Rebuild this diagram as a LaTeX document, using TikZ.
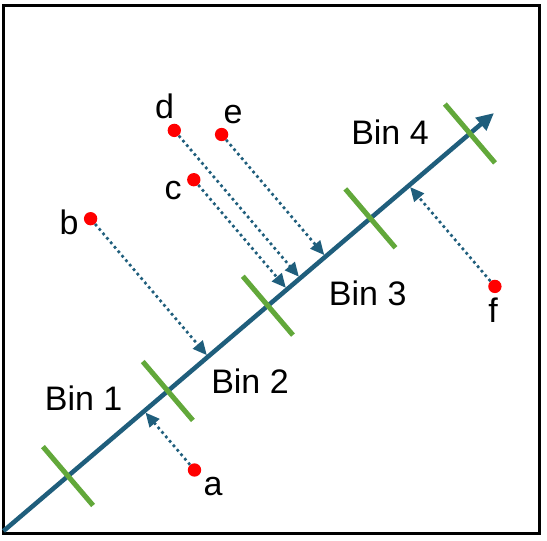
\documentclass[tikz,border=0pt]{standalone}
\usepackage{fontspec}
\setmainfont{Liberation Sans}
\usetikzlibrary{arrows.meta, positioning, calc}

\definecolor{axisblue}{RGB}{31,94,124}
\definecolor{tickgreen}{RGB}{98,168,58}

\begin{document}
\begin{tikzpicture}[x=0.75pt, y=-0.75pt,
  dot/.style={circle, fill=red, inner sep=0pt, minimum size=10pt},
  lbl/.style={anchor=base, inner sep=0pt, font=\fontsize{25.5}{30}\selectfont},
  bintick/.style={draw=tickgreen, line width=3.8pt},
  proj/.style={draw=axisblue, line width=2pt, dash pattern=on 2pt off 2.4pt,
    -{Triangle[length=10.5pt, width=9.5pt]}, shorten >=1.5pt},
]
\useasboundingbox (0,0) rectangle (547,540);
\draw[line width=2.3pt] (3.5,5.5) rectangle (539.5,533.5);

\coordinate (O) at (3.5,531);
\coordinate (T) at (494,113);
\draw[axisblue, line width=3.4pt, -{Triangle[length=13pt, width=12pt]}] (O) -- (T);

\foreach \t [count=\i] in {0.1315, 0.335, 0.539, 0.748, 0.951} {
  \coordinate (K\i) at ($(O)!\t!(T)$);
  \draw[bintick] ($(K\i)!29pt!90:(T)$) -- ($(K\i)!29pt!-90:(T)$);
}

\node[dot] (a) at (194.5,470) {};
\node[dot] (b) at (90.6,218.7) {};
\node[dot] (c) at (193.8,179.7) {};
\node[dot] (d) at (174.3,130.4) {};
\node[dot] (e) at (221.6,134.5) {};
\node[dot] (f) at (494.9,286.4) {};

\foreach \p in {a, b, c, d, e, f}
  \draw[proj] (\p) -- ($(O)!(\p)!(T)$);

\node[lbl] (la) at (213,495)   {a};
\node[lbl] (lb) at (69,234)    {b};
\node[lbl] (lc) at (173,199.4) {c};
\node[lbl] (ld) at (164.5,118) {d};
\node[lbl] (le) at (233,123.5) {e};
\node[lbl] (lf) at (493,322.6) {f};

\node[lbl] (B1) at (83.6,410.5) {Bin 1};
\node[lbl] (B2) at (250,393)    {Bin 2};
\node[lbl] (B3) at (367.7,305)  {Bin 3};
\node[lbl] (B4) at (390,144)    {Bin 4};
\end{tikzpicture}
\end{document}
